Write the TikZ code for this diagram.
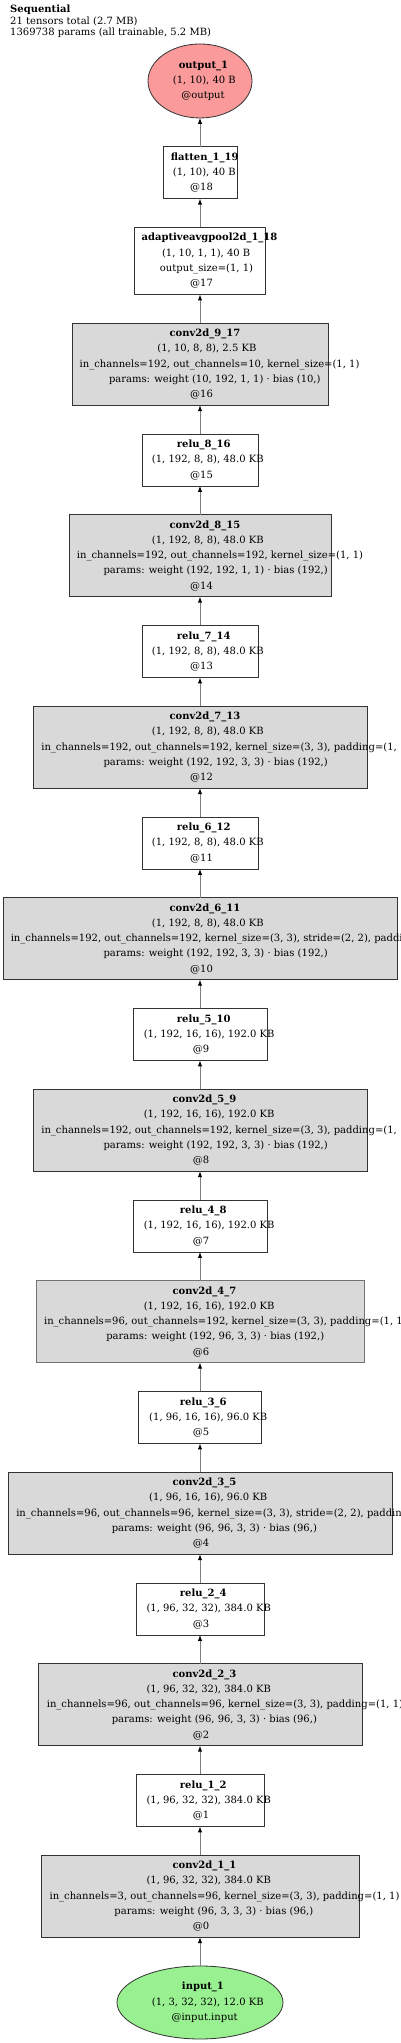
\documentclass[tikz,border=0pt]{standalone}
\usepackage{fontspec}
\setmainfont{DejaVu Serif}
\usetikzlibrary{arrows.meta,positioning,shapes.geometric}
\definecolor{convgray}{HTML}{D9D9D9}
\definecolor{edgegray}{HTML}{808080}
\definecolor{outred}{HTML}{FA9A9A}
\definecolor{ingreen}{HTML}{98F090}
\newlength\gvlen
% one label line, placed the way the renderer does it
\newcommand\gvl[1]{\settowidth\gvlen{#1}\makebox[0pt]{\makebox[0.86\gvlen][l]{#1}}}
\tikzset{
  gvfont/.style={font=\fontsize{10}{15.3}\selectfont},
  convbox/.style={draw=black!80, line width=0.8pt, fill=convgray, align=center, minimum height=82pt, inner sep=0pt, outer sep=0pt, gvfont},
  relubox/.style={draw=black!80, line width=0.8pt, fill=white, align=center, minimum height=52pt, inner sep=0pt, outer sep=0pt, gvfont},
  ionode/.style={ellipse, draw=black!80, line width=0.8pt, align=center, inner sep=0pt, outer sep=0pt, gvfont},
  gvarrow/.style={-{Latex[length=6pt,width=4.5pt,color=black]}, draw=edgegray, line width=1pt}
}
\begin{document}
\begin{tikzpicture}[node distance=28.75pt]
\useasboundingbox (0,0) rectangle (400pt,2043pt);
\node[anchor=north west, inner sep=0pt, align=left, font=\fontsize{10}{11.3}\selectfont] (title) at (10pt,2038pt) {\textbf{Sequential}\\21 tensors total (2.7 MB)\\1369738 params (all trainable, 5.2 MB)};
\node[ionode, fill=ingreen, minimum width=166pt, minimum height=73pt] (in) at (200pt,40.5pt) {\gvl{\textbf{input\_1}}\\\gvl{(1, 3, 32, 32), 12.0 KB}\\\gvl{@input.input}};
\node[convbox, minimum width=318pt, above=of in] (c1) {\gvl{\textbf{conv2d\_1\_1}}\\\gvl{(1, 96, 32, 32), 384.0 KB}\\\gvl{in\_channels=3, out\_channels=96, kernel\_size=(3, 3), padding=(1, 1)}\\\gvl{params: weight (96, 3, 3, 3) · bias (96,)}\\\gvl{@0}};
\node[relubox, minimum width=128pt, above=of c1] (r1) {\gvl{\textbf{relu\_1\_2}}\\\gvl{(1, 96, 32, 32), 384.0 KB}\\\gvl{@1}};
\node[convbox, minimum width=324pt, above=of r1] (c2) {\gvl{\textbf{conv2d\_2\_3}}\\\gvl{(1, 96, 32, 32), 384.0 KB}\\\gvl{in\_channels=96, out\_channels=96, kernel\_size=(3, 3), padding=(1, 1)}\\\gvl{params: weight (96, 96, 3, 3) · bias (96,)}\\\gvl{@2}};
\node[relubox, minimum width=128pt, above=of c2] (r2) {\gvl{\textbf{relu\_2\_4}}\\\gvl{(1, 96, 32, 32), 384.0 KB}\\\gvl{@3}};
\node[convbox, minimum width=384pt, above=of r2] (c3) {\gvl{\textbf{conv2d\_3\_5}}\\\gvl{(1, 96, 16, 16), 96.0 KB}\\\gvl{in\_channels=96, out\_channels=96, kernel\_size=(3, 3), stride=(2, 2), padding=(1, 1)}\\\gvl{params: weight (96, 96, 3, 3) · bias (96,)}\\\gvl{@4}};
\node[relubox, minimum width=123pt, above=of c3] (r3) {\gvl{\textbf{relu\_3\_6}}\\\gvl{(1, 96, 16, 16), 96.0 KB}\\\gvl{@5}};
\node[convbox, draw=black!55, minimum width=328pt, above=of r3] (c4) {\gvl{\textbf{conv2d\_4\_7}}\\\gvl{(1, 192, 16, 16), 192.0 KB}\\\gvl{in\_channels=96, out\_channels=192, kernel\_size=(3, 3), padding=(1, 1)}\\\gvl{params: weight (192, 96, 3, 3) · bias (192,)}\\\gvl{@6}};
\node[relubox, minimum width=134pt, above=of c4] (r4) {\gvl{\textbf{relu\_4\_8}}\\\gvl{(1, 192, 16, 16), 192.0 KB}\\\gvl{@7}};
\node[convbox, minimum width=334pt, above=of r4] (c5) {\gvl{\textbf{conv2d\_5\_9}}\\\gvl{(1, 192, 16, 16), 192.0 KB}\\\gvl{in\_channels=192, out\_channels=192, kernel\_size=(3, 3), padding=(1, 1)}\\\gvl{params: weight (192, 192, 3, 3) · bias (192,)}\\\gvl{@8}};
\node[relubox, minimum width=134pt, above=of c5] (r5) {\gvl{\textbf{relu\_5\_10}}\\\gvl{(1, 192, 16, 16), 192.0 KB}\\\gvl{@9}};
\node[convbox, minimum width=394pt, above=of r5] (c6) {\gvl{\textbf{conv2d\_6\_11}}\\\gvl{(1, 192, 8, 8), 48.0 KB}\\\gvl{in\_channels=192, out\_channels=192, kernel\_size=(3, 3), stride=(2, 2), padding=(1, 1)}\\\gvl{params: weight (192, 192, 3, 3) · bias (192,)}\\\gvl{@10}};
\node[relubox, minimum width=116pt, above=of c6] (r6) {\gvl{\textbf{relu\_6\_12}}\\\gvl{(1, 192, 8, 8), 48.0 KB}\\\gvl{@11}};
\node[convbox, minimum width=334pt, above=of r6] (c7) {\gvl{\textbf{conv2d\_7\_13}}\\\gvl{(1, 192, 8, 8), 48.0 KB}\\\gvl{in\_channels=192, out\_channels=192, kernel\_size=(3, 3), padding=(1, 1)}\\\gvl{params: weight (192, 192, 3, 3) · bias (192,)}\\\gvl{@12}};
\node[relubox, minimum width=116pt, above=of c7] (r7) {\gvl{\textbf{relu\_7\_14}}\\\gvl{(1, 192, 8, 8), 48.0 KB}\\\gvl{@13}};
\node[convbox, minimum width=262pt, above=of r7] (c8) {\gvl{\textbf{conv2d\_8\_15}}\\\gvl{(1, 192, 8, 8), 48.0 KB}\\\gvl{in\_channels=192, out\_channels=192, kernel\_size=(1, 1)}\\\gvl{params: weight (192, 192, 1, 1) · bias (192,)}\\\gvl{@14}};
\node[relubox, minimum width=116pt, above=of c8] (r8) {\gvl{\textbf{relu\_8\_16}}\\\gvl{(1, 192, 8, 8), 48.0 KB}\\\gvl{@15}};
\node[convbox, minimum width=256pt, above=of r8] (c9) {\gvl{\textbf{conv2d\_9\_17}}\\\gvl{(1, 10, 8, 8), 2.5 KB}\\\gvl{in\_channels=192, out\_channels=10, kernel\_size=(1, 1)}\\\gvl{params: weight (10, 192, 1, 1) · bias (10,)}\\\gvl{@16}};
\node[relubox, minimum width=131pt, minimum height=67pt, above=of c9] (pool) {\gvl{\textbf{adaptiveavgpool2d\_1\_18}}\\\gvl{(1, 10, 1, 1), 40 B}\\\gvl{output\_size=(1, 1)}\\\gvl{@17}};
\node[relubox, minimum width=74pt, above=of pool] (flat) {\gvl{\textbf{flatten\_1\_19}}\\\gvl{(1, 10), 40 B}\\\gvl{@18}};
\node[ionode, fill=outred, minimum width=104pt, minimum height=74pt, above=of flat] (out) {\gvl{\textbf{output\_1}}\\\gvl{(1, 10), 40 B}\\\gvl{@output}};
\draw[gvarrow] (in) -- (c1);
\draw[gvarrow] (c1) -- (r1);
\draw[gvarrow] (r1) -- (c2);
\draw[gvarrow] (c2) -- (r2);
\draw[gvarrow] (r2) -- (c3);
\draw[gvarrow] (c3) -- (r3);
\draw[gvarrow] (r3) -- (c4);
\draw[gvarrow] (c4) -- (r4);
\draw[gvarrow] (r4) -- (c5);
\draw[gvarrow] (c5) -- (r5);
\draw[gvarrow] (r5) -- (c6);
\draw[gvarrow] (c6) -- (r6);
\draw[gvarrow] (r6) -- (c7);
\draw[gvarrow] (c7) -- (r7);
\draw[gvarrow] (r7) -- (c8);
\draw[gvarrow] (c8) -- (r8);
\draw[gvarrow] (r8) -- (c9);
\draw[gvarrow] (c9) -- (pool);
\draw[gvarrow] (pool) -- (flat);
\draw[gvarrow] (flat) -- (out);
\end{tikzpicture}
\end{document}
